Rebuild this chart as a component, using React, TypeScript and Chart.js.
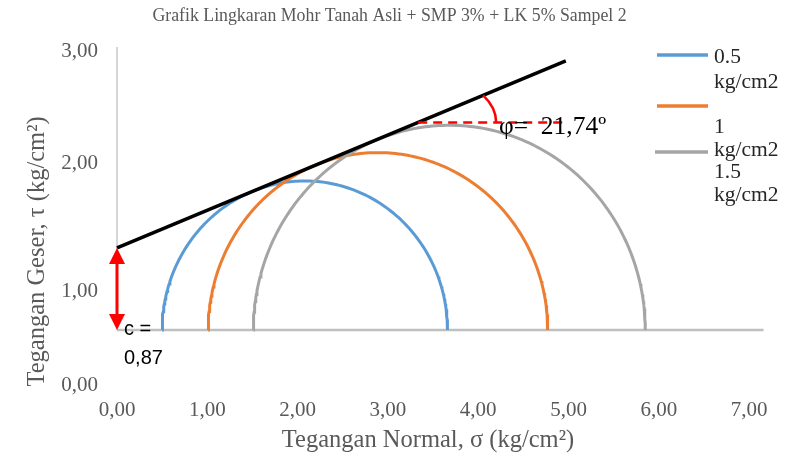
import React, { useEffect, useRef } from "react";
import { Chart, registerables } from "chart.js";

Chart.register(...registerables);

// ---------- data ----------
const chartTitle = "Grafik Lingkaran Mohr Tanah Asli + SMP 3% + LK 5% Sampel 2";
const xAxisTitle = "Tegangan Normal, σ (kg/cm²)";
const yAxisTitle = "Tegangan Geser, τ (kg/cm²)";
const seriesLabels = ["0.5 kg/cm2", "1 kg/cm2", "1.5 kg/cm2"];
const sigma3 = [0.5, 1.01, 1.51];
const sigma1 = [3.66, 4.77, 5.85];
const seriesColors = ["#5B9BD5", "#ED7D31", "#A5A5A5"];
const cohesion = 0.87;
const phiDeg = 21.74;
const envelopeEndX = 4.97;
const phiRefY = 2.2;
const phiRefEndX = 4.95;
const phiLabelAt = [4.23, 2.15];
const cLabelLines = ["c =", "0,87"];
const phiLabel = "φ=  21,74º";
const xTickValues = [0, 1, 2, 3, 4, 5, 6, 7];
const xTickLabels = ["0,00", "1,00", "2,00", "3,00", "4,00", "5,00", "6,00", "7,00"];
const yTickAt = [-0.585, 0.41, 1.76, 2.95];
const yTickLabels = ["0,00", "1,00", "2,00", "3,00"];
const axisLineEndX = 7.16;
const xMax = 7.331;
const yMin = -0.6;
const yMax = 3;

const SERIF = "'Liberation Serif', 'Times New Roman', serif";
const SANS = "'Liberation Sans', Arial, sans-serif";

function semicircle(s3: number, s1: number) {
  const c = (s1 + s3) / 2;
  const r = (s1 - s3) / 2;
  const pts: { x: number; y: number }[] = [];
  const n = 180;
  for (let i = 0; i <= n; i++) {
    const t = (Math.PI * i) / n;
    pts.push({ x: c - r * Math.cos(t), y: r * Math.sin(t) });
  }
  return pts;
}

const tanPhi = Math.tan((phiDeg * Math.PI) / 180);

const annotationPlugin = {
  id: "mohrAnnotations",
  afterDatasetsDraw(chart: any) {
    const ctx = chart.ctx as CanvasRenderingContext2D;
    const xs = chart.scales.x;
    const ys = chart.scales.y;
    const px = (v: number) => xs.getPixelForValue(v);
    const py = (v: number) => ys.getPixelForValue(v);
    ctx.save();
    // cohesion double arrow
    const ax = px(0);
    const yTop = py(cohesion);
    const yBot = py(0);
    ctx.strokeStyle = "#FF0000";
    ctx.fillStyle = "#FF0000";
    ctx.lineWidth = 3;
    ctx.beginPath();
    ctx.moveTo(ax, yTop + 10);
    ctx.lineTo(ax, yBot - 10);
    ctx.stroke();
    const hw = 8;
    const hh = 16;
    ctx.beginPath();
    ctx.moveTo(ax, yTop);
    ctx.lineTo(ax - hw, yTop + hh);
    ctx.lineTo(ax + hw, yTop + hh);
    ctx.closePath();
    ctx.fill();
    ctx.beginPath();
    ctx.moveTo(ax, yBot);
    ctx.lineTo(ax - hw, yBot - hh);
    ctx.lineTo(ax + hw, yBot - hh);
    ctx.closePath();
    ctx.fill();

    // phi reference dashed line
    const xi = (phiRefY - cohesion) / tanPhi;
    const cx = px(xi);
    const cy = py(phiRefY);
    ctx.lineWidth = 2.5;
    ctx.setLineDash([9, 6]);
    ctx.beginPath();
    ctx.moveTo(cx, cy);
    ctx.lineTo(px(phiRefEndX), cy);
    ctx.stroke();
    ctx.setLineDash([]);

    // angle arc
    const ex = px(envelopeEndX) - px(0);
    const ey = py(cohesion + tanPhi * envelopeEndX) - py(cohesion);
    const len = Math.hypot(ex, ey);
    const ux = ex / len;
    const uy = ey / len;
    const rx = 78;
    const ry = 49;
    const tStart = Math.atan2(uy * rx, ux * ry);
    ctx.lineWidth = 2.5;
    ctx.beginPath();
    ctx.ellipse(cx, cy, rx, ry, 0, tStart, 0);
    ctx.stroke();

    // labels
    ctx.fillStyle = "#000000";
    ctx.textBaseline = "middle";
    ctx.textAlign = "left";
    ctx.font = `25.5px ${SERIF}`;
    ctx.fillText(phiLabel, px(phiLabelAt[0]), py(phiLabelAt[1]));
    ctx.font = `20px ${SANS}`;
    ctx.fillText(cLabelLines[0], ax + 7, yBot - 1);
    ctx.fillText(cLabelLines[1], ax + 7, yBot + 28);
    ctx.restore();
  },
};

const overlayTextPlugin = {
  id: "overlayText",
  afterDraw(chart: any) {
    const ctx = chart.ctx as CanvasRenderingContext2D;
    ctx.save();
    // x axis title
    ctx.font = `24.5px ${SERIF}`;
    ctx.fillStyle = "#595959";
    ctx.textAlign = "center";
    ctx.textBaseline = "middle";
    ctx.fillText(xAxisTitle, 428, 441);

    // legend (wrapped as in the original)
    ctx.font = `21.5px ${SERIF}`;
    ctx.fillStyle = "#262626";
    ctx.textAlign = "left";
    const lineY = [55, 106, 152];
    const lineX0 = [657, 657, 655];
    const textY = [[57, 82], [127, 150], [172, 195]];
    seriesLabels.forEach((lab, i) => {
      ctx.strokeStyle = seriesColors[i];
      ctx.lineWidth = 3.5;
      ctx.beginPath();
      ctx.moveTo(lineX0[i], lineY[i]);
      ctx.lineTo(708, lineY[i]);
      ctx.stroke();
      const parts = lab.split(" ");
      ctx.fillText(parts[0], 714, textY[i][0]);
      ctx.fillText(parts[1], 714, textY[i][1]);
    });
    ctx.restore();
  },
};

export default function App() {
  const ref = useRef<HTMLCanvasElement | null>(null);
  useEffect(() => {
    if (!ref.current) return;
    const datasets: any[] = [];
    datasets.push({
      label: "axisH",
      data: [
        { x: 0, y: 0 },
        { x: axisLineEndX, y: 0 },
      ],
      borderColor: "#BFBFBF",
      borderWidth: 2.5,
      showLine: true,
      pointRadius: 0,
      clip: false,
      order: 20,
    });
    datasets.push({
      label: "axisV",
      data: [
        { x: 0, y: 0 },
        { x: 0, y: yMax },
      ],
      borderColor: "#C8C8C8",
      borderWidth: 1.5,
      showLine: true,
      pointRadius: 0,
      clip: false,
      order: 19,
    });
    sigma3.forEach((s3, i) => {
      datasets.push({
        label: seriesLabels[i],
        data: semicircle(s3, sigma1[i]),
        borderColor: seriesColors[i],
        borderWidth: 3,
        showLine: true,
        pointRadius: 0,
        tension: 0,
        clip: false,
        order: 10 - i,
      });
    });
    datasets.push({
      label: "envelope",
      data: [
        { x: 0, y: cohesion },
        { x: envelopeEndX, y: cohesion + tanPhi * envelopeEndX },
      ],
      borderColor: "#000000",
      borderWidth: 3.5,
      showLine: true,
      pointRadius: 0,
      clip: false,
      order: 1,
    });

    const tickFont = { family: SERIF, size: 21 };
    const chart = new Chart(ref.current, {
      type: "scatter",
      data: { datasets },
      options: {
        responsive: false,
        animation: false,
        events: [],
        layout: { padding: { left: 0, right: 10, top: 0, bottom: 0 } },
        plugins: {
          legend: { display: false },
          tooltip: { enabled: false },
          title: {
            display: true,
            text: chartTitle,
            color: "#595959",
            font: { family: SERIF, size: 17.8, weight: "normal" },
            padding: { top: 5.3, bottom: 20.3 },
          },
        },
        scales: {
          x: {
            type: "linear",
            min: 0,
            max: xMax,
            afterBuildTicks: (s: any) => {
              s.ticks = xTickValues.map((v) => ({ value: v }));
            },
            afterFit: (s: any) => {
              s.height = 74.4;
            },
            ticks: {
              autoSkip: false,
              maxRotation: 0,
              padding: 10.8,
              color: "#595959",
              font: tickFont,
              callback: (_v: any, i: number) => xTickLabels[i],
            },
            grid: { display: false, drawTicks: false },
            border: { display: false },
            title: { display: false },
          },
          y: {
            type: "linear",
            min: yMin,
            max: yMax,
            afterBuildTicks: (s: any) => {
              s.ticks = yTickAt.map((v) => ({ value: v }));
            },
            afterFit: (s: any) => {
              s.width = 117;
            },
            ticks: {
              autoSkip: false,
              padding: 19,
              color: "#595959",
              font: tickFont,
              callback: (_v: any, i: number) => yTickLabels[i],
            },
            grid: { display: false, drawTicks: false },
            border: { display: false },
            title: {
              display: true,
              text: yAxisTitle,
              align: "start",
              color: "#595959",
              font: { family: SERIF, size: 24.5 },
              padding: { top: 23.3, bottom: 0 },
            },
          },
        },
      },
      plugins: [annotationPlugin, overlayTextPlugin],
    });
    return () => chart.destroy();
  }, []);

  return (
    <div style={{ position: "fixed", left: 0, top: 0, width: 789, height: 461, background: "#ffffff" }}>
      <canvas ref={ref} width={789} height={461} style={{ width: 789, height: 461, display: "block" }} />
    </div>
  );
}
